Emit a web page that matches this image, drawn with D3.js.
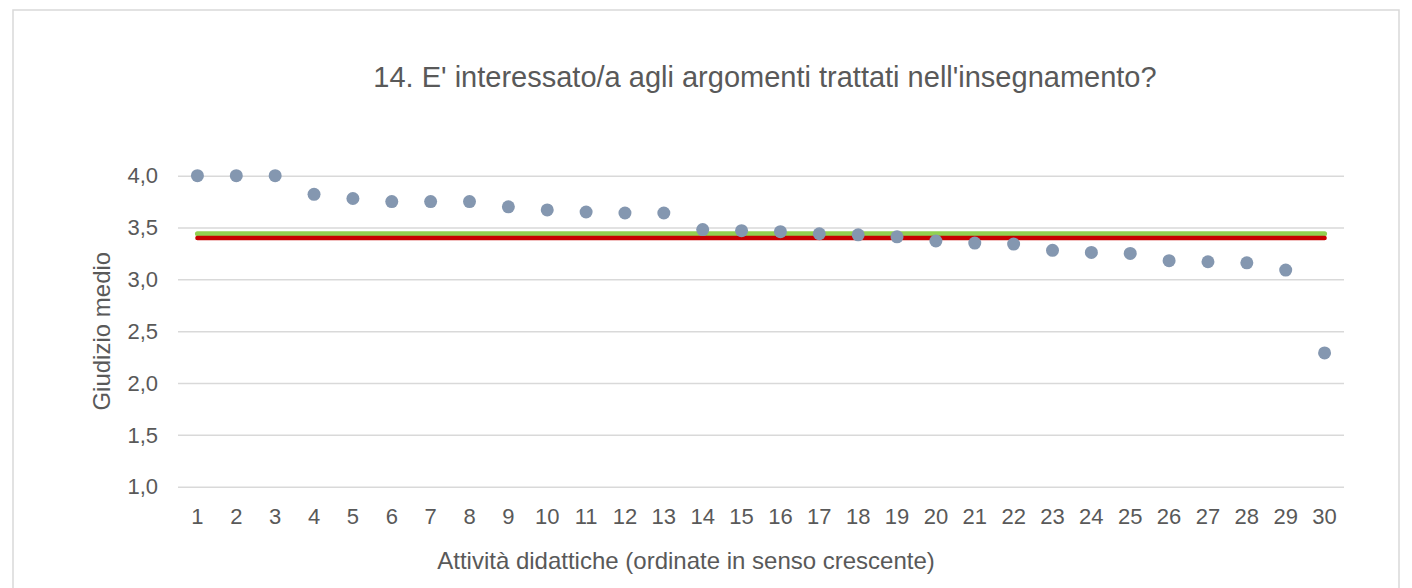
<!DOCTYPE html>
<html>
<head>
<meta charset="UTF-8">
<script src="https://d3js.org/d3.v7.min.js"></script>
<style>
    body {
        margin: 0;
        background: #fff;
        font-family: "Liberation Sans", Arial, sans-serif;
    }
    text {
        fill: #595959;
    }
    .grid line {
        stroke: #d9d9d9;
        stroke-width: 1.5;
    }
    .grid path {
        stroke-width: 0;
    }
</style>
</head>
<body>
<svg width="1412" height="588"></svg>
<script>
    // data
    var activities = d3.range(1, 31);
    var scores = [4.00, 4.00, 4.00, 3.82, 3.78, 3.75, 3.75, 3.75, 3.70, 3.67,
                  3.65, 3.64, 3.64, 3.48, 3.47, 3.46, 3.44, 3.43, 3.41, 3.37,
                  3.35, 3.34, 3.28, 3.26, 3.25, 3.18, 3.17, 3.16, 3.09, 2.29];
    var yTicks = [1.0, 1.5, 2.0, 2.5, 3.0, 3.5, 4.0];
    var greenRef = 3.44;
    var redRef = 3.40;

    var title = "14. E' interessato/a agli argomenti trattati nell'insegnamento?";
    var xTitle = "Attività didattiche (ordinate in senso crescente)";
    var yTitle = "Giudizio medio";

    var svg = d3.select("svg");

    // chart area border
    svg.append("rect")
        .attr("x", 13).attr("y", 10)
        .attr("width", 1386).attr("height", 600)
        .attr("fill", "#fff")
        .attr("stroke", "#d9d9d9")
        .attr("stroke-width", 1.5);

    var plotLeft = 178, plotRight = 1344, plotTop = 175.7, plotBottom = 486.7;

    var x = d3.scaleBand().domain(activities).range([plotLeft, plotRight]).padding(0);
    var y = d3.scaleLinear().domain([1, 4]).range([plotBottom, plotTop]);
    var cx = d => x(d) + x.bandwidth() / 2;

    // gridlines
    svg.append("g")
        .attr("class", "grid")
        .attr("transform", `translate(${plotLeft},0)`)
        .call(d3.axisLeft(y).tickValues(yTicks).tickSize(-(plotRight - plotLeft)).tickFormat(""));

    // y tick labels
    svg.append("g").selectAll("text")
        .data(yTicks).enter().append("text")
        .attr("x", 158)
        .attr("y", d => y(d))
        .attr("dy", "0.35em")
        .attr("text-anchor", "end")
        .style("font-size", "22px")
        .text(d => d3.format(".1f")(d).replace(".", ","));

    // x tick labels
    svg.append("g").selectAll("text")
        .data(activities).enter().append("text")
        .attr("x", d => cx(d))
        .attr("y", 524)
        .attr("text-anchor", "middle")
        .style("font-size", "22px")
        .text(d => d);

    // reference lines
    var first = activities[0], last = activities[activities.length - 1];
    svg.append("line")
        .attr("x1", cx(first)).attr("x2", cx(last))
        .attr("y1", y(greenRef)).attr("y2", y(greenRef))
        .attr("stroke", "#92d050")
        .attr("stroke-width", 5)
        .attr("stroke-linecap", "round");
    svg.append("line")
        .attr("x1", cx(first)).attr("x2", cx(last))
        .attr("y1", y(redRef)).attr("y2", y(redRef))
        .attr("stroke", "#c80000")
        .attr("stroke-width", 4.5)
        .attr("stroke-linecap", "round");

    // points
    svg.append("g").selectAll("circle")
        .data(scores).enter().append("circle")
        .attr("cx", (d, i) => cx(activities[i]))
        .attr("cy", d => y(d))
        .attr("r", 6.5)
        .attr("fill", "#8497b0");

    // titles
    svg.append("text")
        .attr("x", 765)
        .attr("y", 87)
        .attr("text-anchor", "middle")
        .style("font-size", "29px")
        .text(title);

    svg.append("text")
        .attr("x", 686)
        .attr("y", 569)
        .attr("text-anchor", "middle")
        .style("font-size", "24px")
        .text(xTitle);

    svg.append("text")
        .attr("transform", `translate(110,${(plotTop + plotBottom) / 2}) rotate(-90)`)
        .attr("text-anchor", "middle")
        .style("font-size", "24px")
        .text(yTitle);
</script>
</body>
</html>
